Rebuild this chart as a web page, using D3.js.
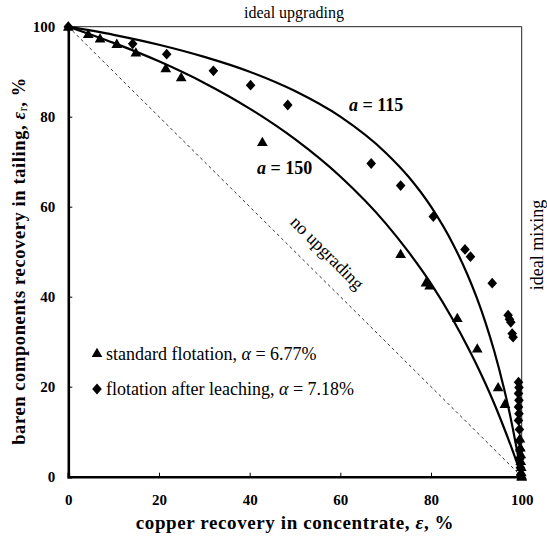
<!DOCTYPE html>
<html>
<head>
<meta charset="utf-8">
<script src="https://cdn.jsdelivr.net/npm/d3@7"></script>
<style>
  html, body { margin: 0; padding: 0; background: #fff; }
  svg { display: block; }
  text { font-family: "Liberation Serif", "Times New Roman", serif; fill: #000; }
</style>
</head>
<body>
<svg id="chart" width="547" height="537"></svg>
<script>
// Upgrading curves: baren components recovery in tailing vs copper recovery in concentrate
const xTicks = [0, 20, 40, 60, 80, 100];
const yTicks = [0, 20, 40, 60, 80, 100];

// model curve a = 115
const curve115 = [
  [0, 100], [10, 98.2], [20, 96], [30, 93.3], [40, 90], [50, 85.7], [60, 80],
  [70, 72], [75, 66.7], [80, 60], [85, 51.4], [88, 45], [90, 40], [92, 34.3],
  [94, 27.7], [96, 20], [97, 15.7], [98, 10.9], [99, 5.7], [100, 0]
];
// model curve a = 150
const curve150 = [
  [0, 100], [10, 96.4], [20, 92.3], [30, 87.5], [40, 81.8], [50, 75], [60, 66.7],
  [70, 56.3], [75, 50], [80, 42.9], [85, 34.6], [88, 29], [90, 25], [92, 20.7],
  [94, 16.1], [96, 11.1], [98, 5.8], [100, 0]
];
// standard flotation results
const standardFlotation = [
  [0, 100], [4.4, 98.4], [7.0, 97.4], [10.7, 96.2], [14.9, 94.3], [21.5, 90.8],
  [24.9, 88.8], [42.8, 74.4], [73.3, 49.5], [78.9, 43.2], [79.7, 42.5], [85.8, 35.3],
  [90.2, 28.5], [94.8, 19.9], [96.3, 16.2], [99.6, 8.5], [99.7, 6.5], [99.8, 5],
  [99.8, 3.5], [99.9, 2.2], [99.9, 1], [100, 0.3], [100, 0]
];
// flotation after leaching results
const leachedFlotation = [
  [0, 100], [14.2, 96.2], [21.7, 93.9], [32.0, 90.2], [40.2, 87.0], [48.4, 82.6],
  [66.8, 69.6], [73.3, 64.7], [80.5, 57.8], [87.5, 50.5], [88.7, 48.9], [93.5, 43.0],
  [97.0, 35.9], [97.3, 35.0], [97.6, 34.3], [97.9, 31.8], [98.1, 31.0],
  [99.3, 21.0], [99.4, 19.8], [99.3, 18.5], [99.4, 17.0], [99.3, 15.5], [99.4, 14.0],
  [99.3, 12.5], [99.5, 10.5], [99.5, 8], [99.6, 6], [99.6, 4], [99.7, 2], [99.8, 0.5]
];
const noUpgrading = [[0, 100], [100, 0]];

const svg = d3.select("#chart");
const x = d3.scaleLinear().domain([0, 100]).range([68.3, 521.7]);
const y = d3.scaleLinear().domain([0, 100]).range([476.7, 26.7]);

// frame: ideal upgrading (top) and ideal mixing (right)
svg.append("line")
  .attr("x1", x(0)).attr("y1", y(100)).attr("x2", x(100)).attr("y2", y(100))
  .attr("stroke", "#222").attr("stroke-width", 1);
svg.append("line")
  .attr("x1", x(100)).attr("y1", y(100)).attr("x2", x(100)).attr("y2", y(0))
  .attr("stroke", "#222").attr("stroke-width", 1);

// no upgrading diagonal
const straight = d3.line().x(d => x(d[0])).y(d => y(d[1]));
svg.append("path")
  .attr("d", straight(noUpgrading))
  .attr("fill", "none").attr("stroke", "#333").attr("stroke-width", 1)
  .attr("stroke-dasharray", "3,3");

// model curves
const smooth = d3.line().x(d => x(d[0])).y(d => y(d[1])).curve(d3.curveMonotoneX);
[curve115, curve150].forEach(c => {
  svg.append("path")
    .attr("d", smooth(c))
    .attr("fill", "none").attr("stroke", "#000").attr("stroke-width", 2.2);
});

// axes
const xAxis = svg.append("g")
  .attr("transform", `translate(0,${y(0)})`)
  .call(d3.axisBottom(x).tickValues(xTicks).tickSize(-4).tickPadding(18));
const yAxis = svg.append("g")
  .attr("transform", `translate(${x(0)},0)`)
  .call(d3.axisLeft(y).tickValues(yTicks).tickSize(-4).tickPadding(13));
[xAxis, yAxis].forEach(g => {
  g.select(".domain").attr("stroke", "#000").attr("stroke-width", 2.6);
  g.selectAll(".tick line").attr("stroke", "#000").attr("stroke-width", 1);
  g.selectAll(".tick text")
    .attr("font-family", '"Liberation Serif", "Times New Roman", serif')
    .attr("font-weight", "bold").attr("font-size", 15).attr("fill", "#000");
});
xAxis.selectAll(".tick").filter(d => d === 0 || d === 100).select("line").remove();
yAxis.selectAll(".tick").filter(d => d === 0 || d === 100).select("line").remove();

// markers
const triangle = d3.symbol().type(d3.symbolTriangle).size(50);
const diamondType = {
  draw(ctx, size) {
    const w = 4.8, h = 5.4;
    ctx.moveTo(0, -h); ctx.lineTo(w, 0); ctx.lineTo(0, h); ctx.lineTo(-w, 0); ctx.closePath();
  }
};
const diamond = d3.symbol().type(diamondType);

svg.append("g").selectAll("path").data(leachedFlotation).join("path")
  .attr("d", diamond())
  .attr("transform", d => `translate(${x(d[0])},${y(d[1])})`)
  .attr("fill", "#000");
svg.append("g").selectAll("path").data(standardFlotation).join("path")
  .attr("d", triangle())
  .attr("transform", d => `translate(${x(d[0])},${y(d[1]) + 1})`)
  .attr("fill", "#000");

// annotations
svg.append("text").attr("x", 294).attr("y", 18).attr("text-anchor", "middle")
  .attr("font-size", 16).text("ideal upgrading");
svg.append("text").attr("transform", "translate(543,245) rotate(-90)")
  .attr("text-anchor", "middle").attr("font-size", 18).text("ideal mixing");
svg.append("text").attr("transform", "translate(323,257) rotate(45)")
  .attr("text-anchor", "middle").attr("font-size", 18).text("no upgrading");

function curveLabel(px, py, val) {
  const t = svg.append("text").attr("x", px).attr("y", py)
    .attr("font-size", 18).attr("font-weight", "bold");
  t.append("tspan").attr("font-style", "italic").text("a");
  t.append("tspan").text(" = " + val);
}
curveLabel(349, 111, "115");
curveLabel(257, 174, "150");

// legend
svg.append("path").attr("d", triangle())
  .attr("transform", "translate(97,354)").attr("fill", "#000");
const l1 = svg.append("text").attr("x", 106).attr("y", 360).attr("font-size", 18);
l1.append("tspan").text("standard flotation, ");
l1.append("tspan").attr("font-style", "italic").text("α");
l1.append("tspan").text(" = 6.77%");

svg.append("path").attr("d", diamond())
  .attr("transform", "translate(97,389)").attr("fill", "#000");
const l2 = svg.append("text").attr("x", 106).attr("y", 395).attr("font-size", 18);
l2.append("tspan").text("flotation after leaching, ");
l2.append("tspan").attr("font-style", "italic").text("α");
l2.append("tspan").text(" = 7.18%");

// axis titles
const xt = svg.append("text").attr("x", 295).attr("y", 529).attr("text-anchor", "middle")
  .attr("font-size", 19).attr("font-weight", "bold").attr("letter-spacing", 0.6);
xt.append("tspan").text("copper recovery in concentrate, ");
xt.append("tspan").attr("font-style", "italic").text("ε");
xt.append("tspan").text(", %");

const yt = svg.append("text").attr("transform", "translate(25,261) rotate(-90)")
  .attr("text-anchor", "middle").attr("font-size", 18.5).attr("font-weight", "bold")
  .attr("letter-spacing", 0.6);
yt.append("tspan").text("baren components recovery in tailing, ");
yt.append("tspan").attr("font-style", "italic").text("ε");
yt.append("tspan").attr("font-size", 12).attr("font-weight", "normal").attr("dy", 2).text("r");
yt.append("tspan").attr("dy", -2).text(", %");
</script>
</body>
</html>
